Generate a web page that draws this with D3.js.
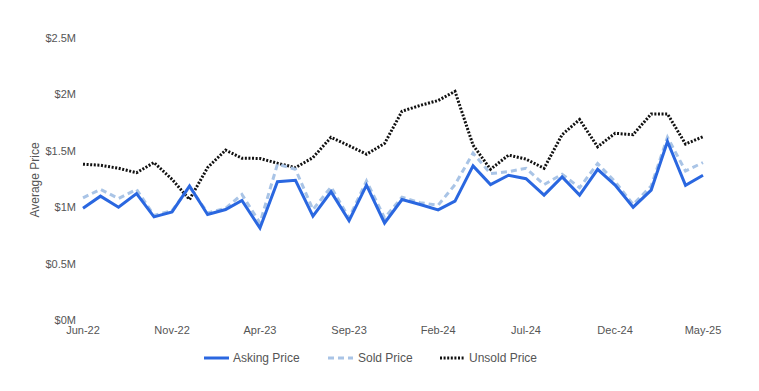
<!DOCTYPE html>
<html lang="en">
<head>
  <meta charset="UTF-8">
  <title>Average Price</title>
  <script src="https://d3js.org/d3.v7.min.js"></script>
  <style>
    body { margin: 0; background: #fff; }
    text { font-family: "Liberation Sans", Arial, sans-serif; font-size: 11px; fill: #555; }
  </style>
</head>
<body>
  <script>
    // Mesi da Jun-22 a May-25
    const months = d3.timeMonths(new Date(2022, 5, 1), new Date(2025, 5, 1));

    const asking = [0.99, 1.098, 1.0, 1.12, 0.914, 0.958, 1.188, 0.935, 0.979, 1.06, 0.815, 1.226,
      1.238, 0.92, 1.137, 0.881, 1.196, 0.86, 1.068, 1.024, 0.976, 1.054, 1.366, 1.2,
      1.283, 1.253, 1.107, 1.268, 1.107, 1.336, 1.196, 1.0, 1.152, 1.583, 1.194, 1.283];

    const sold = [1.083, 1.158, 1.077, 1.158, 0.926, 0.97, 1.18, 0.95, 0.99, 1.113, 0.86, 1.381,
      1.336, 0.979, 1.179, 0.905, 1.232, 0.905, 1.089, 1.04, 1.018, 1.2, 1.48, 1.298,
      1.315, 1.345, 1.2, 1.292, 1.173, 1.387, 1.226, 1.024, 1.188, 1.619, 1.321, 1.396];

    const unsold = [1.381, 1.372, 1.345, 1.306, 1.396, 1.247, 1.068, 1.351, 1.506, 1.435, 1.432, 1.39,
      1.351, 1.44, 1.619, 1.545, 1.47, 1.565, 1.851, 1.902, 1.946, 2.027, 1.55, 1.336,
      1.462, 1.426, 1.345, 1.643, 1.777, 1.536, 1.655, 1.643, 1.827, 1.827, 1.56, 1.625];

    const yTicks = [0, 0.5, 1, 1.5, 2, 2.5];

    const series = [
      { name: "Asking Price", values: asking, color: "#2a67e0", dash: null },
      { name: "Sold Price", values: sold, color: "#a9c4e6", dash: "6,4" },
      { name: "Unsold Price", values: unsold, color: "#111", dash: "2,1.6" }
    ];

    const width = 759, height = 391;
    const svg = d3.select("body").append("svg")
      .attr("width", width)
      .attr("height", height);

    const x = d3.scaleTime()
      .domain([months[0], months[months.length - 1]])
      .range([83, 703]);
    const y = d3.scaleLinear().domain([0, 2.5]).range([320, 38]);

    // Asse y
    svg.append("g")
      .selectAll("text")
      .data(yTicks)
      .enter()
      .append("text")
      .attr("x", 76)
      .attr("y", d => y(d) + 4)
      .attr("text-anchor", "end")
      .text(d => "$" + d + "M");

    svg.append("text")
      .attr("transform", "translate(39,180) rotate(-90)")
      .attr("text-anchor", "middle")
      .style("font-size", "12px")
      .text("Average Price");

    // Asse x, un'etichetta ogni 5 mesi
    const xTicks = months.filter((d, i) => i % 5 === 0);
    svg.append("g")
      .selectAll("text")
      .data(xTicks)
      .enter()
      .append("text")
      .attr("x", d => x(d))
      .attr("y", 334)
      .attr("text-anchor", "middle")
      .text(d => d3.timeFormat("%b-%y")(d));

    // Linee
    const line = d3.line()
      .x((d, i) => x(months[i]))
      .y(d => y(d));

    // disegno in ordine inverso: asking sopra
    series.slice().reverse().forEach(s => {
      svg.append("path")
        .datum(s.values)
        .attr("d", line)
        .attr("fill", "none")
        .attr("stroke", s.color)
        .attr("stroke-width", 3)
        .attr("stroke-dasharray", s.dash);
    });

    // Legenda
    const legendItems = [
      { s: series[0], x1: 204, x2: 229, tx: 233 },
      { s: series[1], x1: 328, x2: 353, tx: 358 },
      { s: series[2], x1: 440, x2: 465, tx: 469 }
    ];
    const lg = svg.append("g");
    legendItems.forEach(l => {
      lg.append("line")
        .attr("x1", l.x1).attr("x2", l.x2)
        .attr("y1", 358).attr("y2", 358)
        .attr("stroke", l.s.color)
        .attr("stroke-width", 3)
        .attr("stroke-dasharray", l.s.dash);
      lg.append("text")
        .attr("x", l.tx)
        .attr("y", 362)
        .style("font-size", "12px")
        .text(l.s.name);
    });
  </script>
</body>
</html>
